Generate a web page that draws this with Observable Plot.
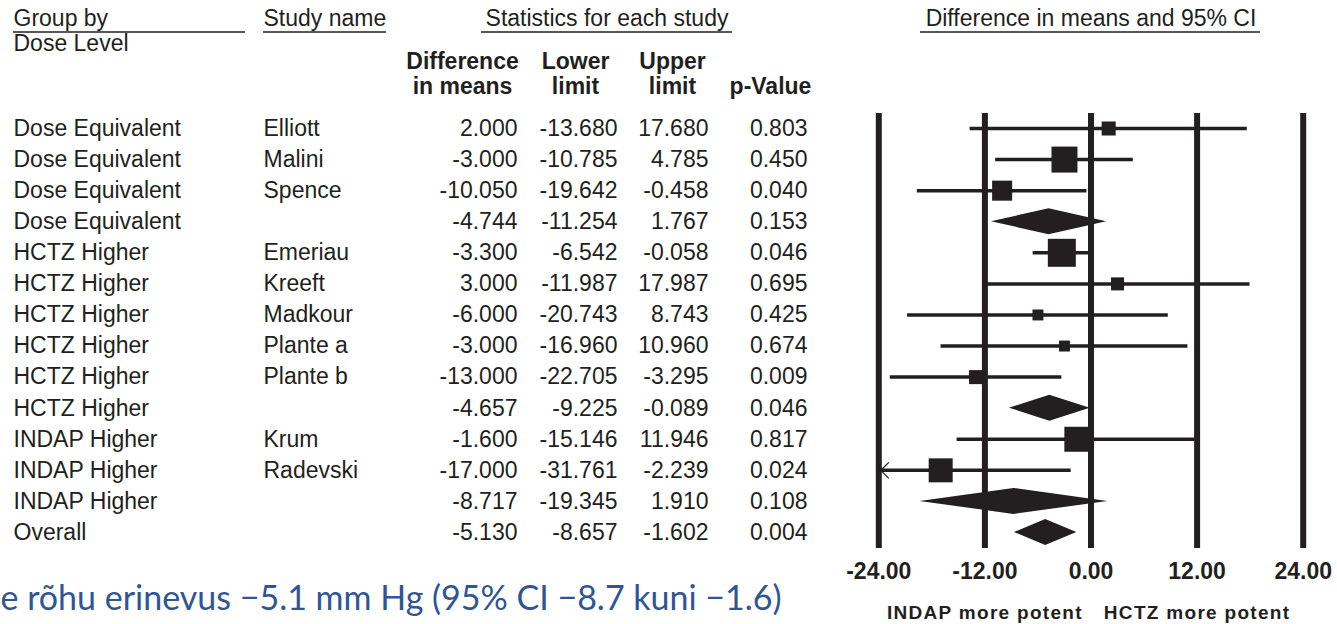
<!DOCTYPE html>
<html>
<head>
<meta charset="utf-8">
<script src="https://cdn.jsdelivr.net/npm/d3@7"></script>
<script src="https://cdn.jsdelivr.net/npm/@observablehq/plot@0.6"></script>
<style>
  html, body { margin: 0; padding: 0; background: #fff; }
  #chart svg { display: block; }
</style>
</head>
<body>
<div id="chart"></div>
<script>
// ---------------- data ----------------
const groups = [
  "Dose Equivalent", "Dose Equivalent", "Dose Equivalent", "Dose Equivalent",
  "HCTZ Higher", "HCTZ Higher", "HCTZ Higher", "HCTZ Higher", "HCTZ Higher", "HCTZ Higher",
  "INDAP Higher", "INDAP Higher", "INDAP Higher", "Overall"
];
const studies = [
  "Elliott", "Malini", "Spence", "",
  "Emeriau", "Kreeft", "Madkour", "Plante a", "Plante b", "",
  "Krum", "Radevski", "", ""
];
const diffs  = [2.000, -3.000, -10.050, -4.744, -3.300, 3.000, -6.000, -3.000, -13.000, -4.657, -1.600, -17.000, -8.717, -5.130];
const lowers = [-13.680, -10.785, -19.642, -11.254, -6.542, -11.987, -20.743, -16.960, -22.705, -9.225, -15.146, -31.761, -19.345, -8.657];
const uppers = [17.680, 4.785, -0.458, 1.767, -0.058, 17.987, 8.743, 10.960, -3.295, -0.089, 11.946, -2.239, 1.910, -1.602];
const pValues = [0.803, 0.450, 0.040, 0.153, 0.046, 0.695, 0.425, 0.674, 0.009, 0.046, 0.817, 0.024, 0.108, 0.004];
// relative weights (%) estimated from the size of the squares
const relWeights = [5.1, 17.5, 10.4, null, 20.3, 4.4, 3.1, 3.1, 5.1, null, 16.2, 14.9, null, null];
const xTicks = [-24, -12, 0, 12, 24];
const directionLabels = [
  {x: -12, label: "INDAP more potent"},
  {x: 12, label: "HCTZ more potent"}
];
const headerTop = ["Group by", "Study name", "Statistics for each study", "Difference in means and 95% CI"];
const subHeader = "Dose Level";
const columnHeaders = ["Difference\nin means", "Lower\nlimit", "Upper\nlimit", "p-Value"];
const captionText = "e rõhu erinevus −5.1 mm Hg (95% CI −8.7 kuni −1.6)";

// ---------------- layout ----------------
const ink = "#231f20";
const W = 1337, H = 624;
const xOpts = {domain: [-24, 24], range: [878.3, 1302.7]};
const yOpts = {domain: [0, 13], range: [128, 532]};
const rowStep = (yOpts.range[1] - yOpts.range[0]) / (yOpts.domain[1] - yOpts.domain[0]);
const frameTop = 113, frameBottom = 548;
const diamondHalf = 13 / rowStep;  // half height of diamonds in row units

const xs = Plot.scale({x: xOpts});
const ys = Plot.scale({y: yOpts});

const rows = groups.map((g, i) => ({
  row: i,
  group: g,
  study: studies[i],
  diff: diffs[i],
  lower: lowers[i],
  upper: uppers[i],
  p: pValues[i],
  weight: relWeights[i],
  summary: studies[i] === ""
}));
const studyRows = rows.filter(d => !d.summary);
const summaryRows = rows.filter(d => d.summary);
const [xMin, xMax] = xOpts.domain;

const diamondPts = summaryRows.flatMap(d => [
  {row: d.row, y: d.row - diamondHalf, x1: d.diff, x2: d.diff},
  {row: d.row, y: d.row, x1: d.lower, x2: d.upper},
  {row: d.row, y: d.row + diamondHalf, x1: d.diff, x2: d.diff}
]);
const clippedLeft = studyRows.filter(d => d.lower < xMin);

const chevron = {
  draw(context, size) {
    const r = Math.sqrt(size / Math.PI);
    context.moveTo(r, -r);
    context.lineTo(0, 0);
    context.lineTo(r, r);
  }
};

// table columns (pixel anchor, alignment)
const tableCols = [
  {key: "group", px: 13, anchor: "start", fmt: d => d.group},
  {key: "study", px: 263, anchor: "start", fmt: d => d.study},
  {key: "diff", px: 517, anchor: "end", fmt: d => d.diff.toFixed(3)},
  {key: "lower", px: 617, anchor: "end", fmt: d => d.lower.toFixed(3)},
  {key: "upper", px: 708, anchor: "end", fmt: d => d.upper.toFixed(3)},
  {key: "p", px: 807, anchor: "end", fmt: d => d.p.toFixed(3)}
];
const headerTopLayout = [
  {px: 13, anchor: "start", line: [13, 245]},
  {px: 263, anchor: "start", line: [263, 386]},
  {px: 606.5, anchor: "middle", line: [481, 732]},
  {px: xs.apply(0), anchor: "middle", line: [920, 1260]}
];
const colHeaderCenters = [462, 575, 672, 770];
const fs = 23;

const tableMarks = tableCols.map(c =>
  Plot.text(rows, {
    y: "row", text: c.fmt, frameAnchor: "left", dx: c.px,
    textAnchor: c.anchor, fontSize: fs, fill: ink
  })
);

const headerMarks = headerTop.map((t, i) =>
  Plot.text([t], {
    frameAnchor: "top-left", dx: headerTopLayout[i].px, dy: 25 - frameTop,
    lineAnchor: "bottom", textAnchor: headerTopLayout[i].anchor, fontSize: fs, fill: ink
  })
);
const underlines = Plot.ruleY(headerTopLayout, {
  y: () => ys.invert(31.5),
  x1: d => xs.invert(d.line[0]),
  x2: d => xs.invert(d.line[1]),
  stroke: ink, strokeWidth: 1.6
});
const colHeaderMarks = columnHeaders.map((t, i) =>
  Plot.text([t], {
    frameAnchor: "top-left", dx: colHeaderCenters[i], dy: 93 - frameTop,
    lineAnchor: "bottom", lineHeight: 25 / fs, textAnchor: "middle",
    fontSize: fs, fontWeight: "bold", fill: ink
  })
);

const chart = Plot.plot({
  width: W,
  height: H,
  marginTop: frameTop,
  marginBottom: H - frameBottom,
  marginLeft: 0,
  marginRight: 0,
  x: {...xOpts, axis: null},
  y: {...yOpts, axis: null},
  r: {type: "sqrt", domain: [0, 100], range: [0, 35.06]},
  style: {fontFamily: "'Liberation Sans', Arial, sans-serif", color: ink, background: "#fff", overflow: "visible"},
  marks: [
    Plot.ruleX(xTicks, {x: d => d, stroke: ink, strokeWidth: 6}),
    Plot.ruleY(studyRows, {
      y: "row",
      x1: d => Math.max(d.lower, xMin),
      x2: d => Math.min(d.upper, xMax),
      stroke: ink, strokeWidth: 3.5
    }),
    Plot.dot(studyRows, {x: "diff", y: "row", r: "weight", symbol: "square", fill: ink, stroke: null}),
    Plot.dot(clippedLeft, {x: () => xMin, y: "row", r: 8, dx: 2, symbol: chevron, fill: "none", stroke: ink, strokeWidth: 1.3}),
    Plot.areaX(diamondPts, {x1: "x1", x2: "x2", y: "y", z: "row", fill: ink, curve: "linear"}),
    ...tableMarks,
    ...headerMarks,
    underlines,
    Plot.text([subHeader], {
      frameAnchor: "top-left", dx: 13, dy: 50 - frameTop, lineAnchor: "bottom",
      textAnchor: "start", fontSize: fs, fill: ink
    }),
    ...colHeaderMarks,
    Plot.text(xTicks, {
      x: d => d, text: d => d.toFixed(2), frameAnchor: "bottom", lineAnchor: "top", dy: 14,
      fontSize: fs, fontWeight: "bold", fill: ink
    }),
    Plot.text(directionLabels, {
      x: "x", text: "label", frameAnchor: "bottom", lineAnchor: "bottom", dy: 618 - frameBottom,
      fontSize: 19, fontWeight: "bold", fill: ink
    }),
    Plot.text([captionText], {
      frameAnchor: "bottom-left", dx: 0, dy: 609 - frameBottom, lineAnchor: "bottom",
      textAnchor: "start", fontSize: 34, fontFamily: "Lato, 'Open Sans', sans-serif", fill: "#2f5597"
    })
  ]
});

// letter spacing of the direction labels
d3.select(chart).selectAll("text").filter(function () {
  return directionLabels.some(l => l.label === this.textContent);
}).style("letter-spacing", "1.3px");

document.getElementById("chart").appendChild(chart);
</script>
</body>
</html>
